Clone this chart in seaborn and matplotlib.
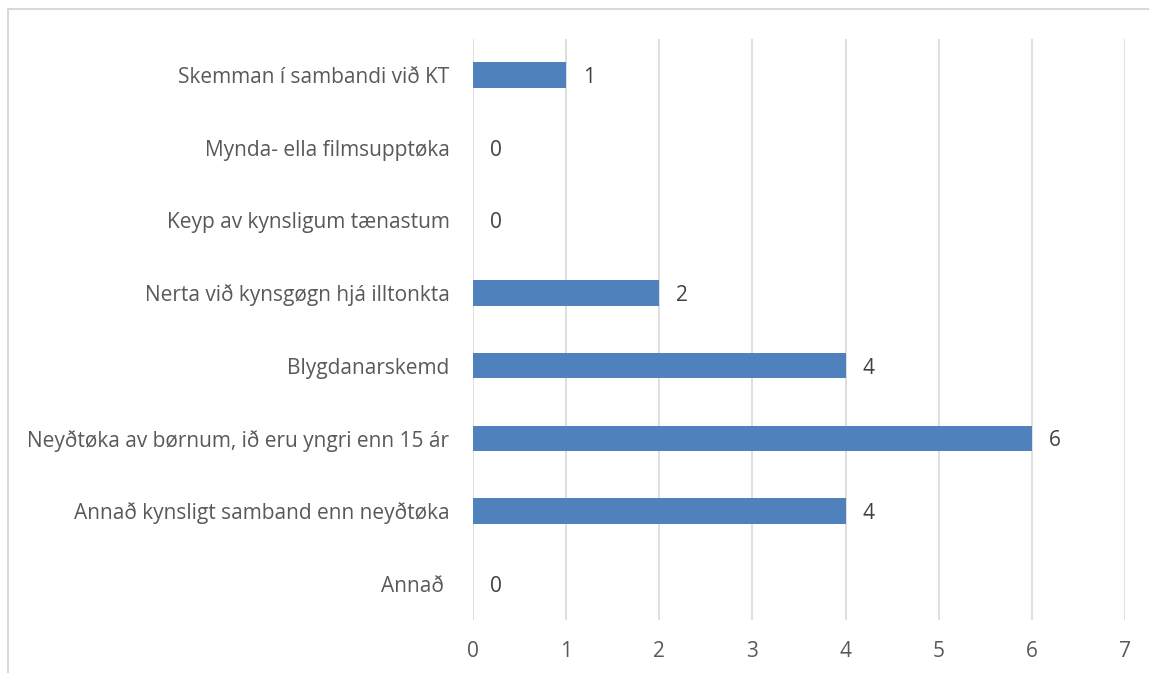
import matplotlib
matplotlib.use("Agg")
import matplotlib.pyplot as plt
import seaborn as sns
import pandas as pd
from matplotlib.patches import Rectangle

categories = [
    "Skemman í sambandi við KT",
    "Mynda- ella filmsupptøka",
    "Keyp av kynsligum tænastum",
    "Nerta við kynsgøgn hjá illtonkta",
    "Blygdanarskemd",
    "Neyðtøka av børnum, ið eru yngri enn 15 ár",
    "Annað kynsligt samband enn neyðtøka",
    "Annað ",
]
values = [1, 0, 0, 2, 4, 6, 4, 0]
x_ticks = [0, 1, 2, 3, 4, 5, 6, 7]

df = pd.DataFrame({"category": categories, "value": values})

sns.set_theme(style="white")
plt.rcParams["font.family"] = ["Open Sans", "DejaVu Sans"]

fig = plt.figure(figsize=(11.49, 6.73), dpi=100)
ax = fig.add_axes([0.4117, 0.0788, 0.979 - 0.4117, 0.9426 - 0.0788])

sns.barplot(data=df, x="value", y="category", orient="h", color="#4F81BD",
            saturation=1, width=0.35, linewidth=0, ax=ax)

ax.set_xlim(0, 7)
ax.set_xticks(x_ticks)
ax.set_xlabel("")
ax.set_ylabel("")
ax.grid(axis="x", color="#d9d9d9", linewidth=1.2)
ax.grid(axis="y", visible=False)
ax.set_axisbelow(True)
for s in ax.spines.values():
    s.set_visible(False)
ax.tick_params(axis="both", length=0, labelsize=15, labelcolor="#595959")
ax.tick_params(axis="x", pad=15)
ax.tick_params(axis="y", pad=17)

for c in ax.containers:
    texts = ax.bar_label(c, labels=[str(v) for v in values], padding=12,
                         fontsize=15, color="#404040")
    for t in texts:
        t.set_verticalalignment("center_baseline")

fig.patches.append(Rectangle((8 / 1149, -0.1), 1.2, 1.1 - 9 / 673,
                             transform=fig.transFigure, fill=False,
                             edgecolor="#d9d9d9", linewidth=1.5))

fig.savefig("out.png", dpi=100)
